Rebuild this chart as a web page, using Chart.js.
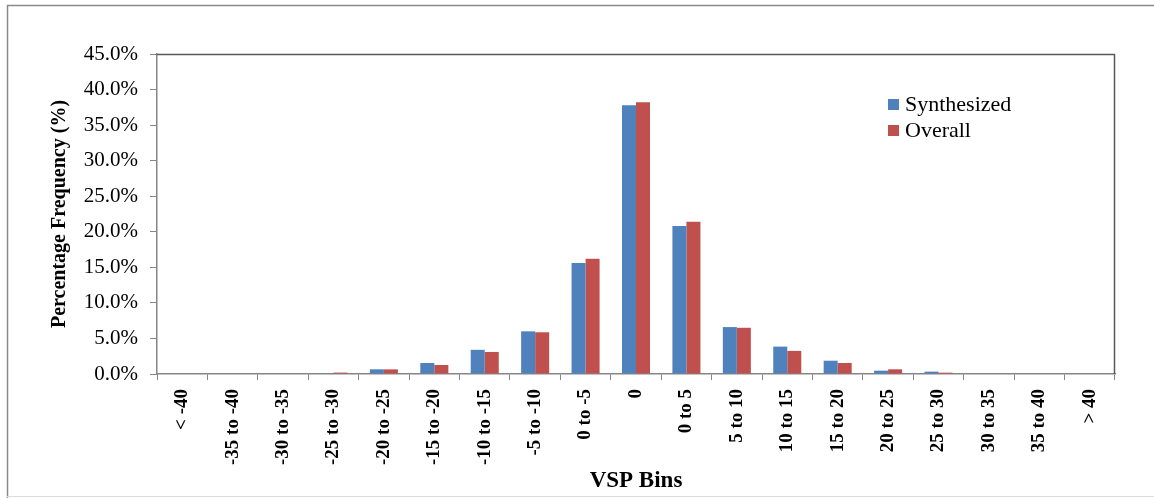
<!DOCTYPE html>
<html>
<head>
<meta charset="utf-8">
<script src="https://cdn.jsdelivr.net/npm/chart.js@4.4.1/dist/chart.umd.min.js"></script>
<style>
  html, body { margin: 0; padding: 0; background: #ffffff; }
  #wrap { width: 1154px; height: 498px; }
</style>
</head>
<body>
<div id="wrap"><canvas id="c" width="1154" height="498"></canvas></div>
<script>
// VSP bin labels along the category axis
const categories = ['< -40', '-35 to -40', '-30 to -35', '-25 to -30', '-20 to -25', '-15 to -20',
  '-10 to -15', '-5 to -10', '0 to -5', '0', '0 to 5', '5 to 10', '10 to 15', '15 to 20',
  '20 to 25', '25 to 30', '30 to 35', '35 to 40', '> 40'];

// Percentage frequency per bin (%)
const synthesized = [0, 0, 0, 0, 0.66, 1.55, 3.4, 6.0, 15.6, 37.8, 20.8, 6.6, 3.85, 1.87, 0.47, 0.33, 0, 0, 0];
const overall = [0, 0, 0, 0.2, 0.65, 1.27, 3.1, 5.87, 16.2, 38.2, 21.4, 6.5, 3.25, 1.55, 0.66, 0.19, 0, 0, 0];

const seriesNames = ['Synthesized', 'Overall'];
const seriesColors = ['#4F81BD', '#C0504D'];

// Y axis: 0% .. 45% in 5% steps
const yMin = 0, yMax = 45, yStep = 5;

Chart.defaults.font.family = "'Liberation Serif', 'Times New Roman', serif";
Chart.defaults.color = '#000000';

// Outer frame and white background
const framePlugin = {
  id: 'frame',
  beforeDraw(chart) {
    const ctx = chart.ctx;
    ctx.save();
    ctx.fillStyle = '#ffffff';
    ctx.fillRect(0, 0, chart.width, chart.height);
    ctx.strokeStyle = '#8a8a8a';
    ctx.lineWidth = 1.5;
    ctx.beginPath();
    ctx.moveTo(7.5, chart.height);
    ctx.lineTo(7.5, 5.5);
    ctx.lineTo(chart.width, 5.5);
    ctx.stroke();
    ctx.strokeStyle = '#dcdcdc';
    ctx.lineWidth = 1;
    ctx.beginPath();
    ctx.moveTo(7, 496.5);
    ctx.lineTo(chart.width, 496.5);
    ctx.stroke();
    ctx.restore();
  }
};

// Top and right edges of the plot area, plus the legend inside it
const plotBoxPlugin = {
  id: 'plotBox',
  afterDraw(chart) {
    const ctx = chart.ctx;
    const a = chart.chartArea;
    ctx.save();
    ctx.strokeStyle = '#595959';
    ctx.lineWidth = 1.5;
    ctx.beginPath();
    ctx.moveTo(a.left, a.top + 0.5);
    ctx.lineTo(a.right - 0.5, a.top + 0.5);
    ctx.lineTo(a.right - 0.5, a.bottom);
    ctx.stroke();

    ctx.font = "22px 'Liberation Serif', 'Times New Roman', serif";
    ctx.textBaseline = 'middle';
    ctx.textAlign = 'left';
    chart.data.datasets.forEach((ds, i) => {
      const y = 105 + i * 26;
      ctx.fillStyle = ds.backgroundColor;
      ctx.fillRect(888, y - 6, 11, 11);
      ctx.fillStyle = '#000000';
      ctx.fillText(ds.label, 905, y);
    });
    ctx.restore();
  }
};

new Chart(document.getElementById('c'), {
  type: 'bar',
  data: {
    labels: categories,
    datasets: [
      { label: seriesNames[0], data: synthesized, backgroundColor: seriesColors[0] },
      { label: seriesNames[1], data: overall, backgroundColor: seriesColors[1] }
    ]
  },
  options: {
    responsive: false,
    animation: false,
    devicePixelRatio: 1,
    layout: { padding: { left: 30, top: 54, right: 39, bottom: 3 } },
    datasets: { bar: { categoryPercentage: 0.556, barPercentage: 1.0, borderWidth: 0 } },
    plugins: {
      legend: { display: false },
      tooltip: { enabled: false },
      title: { display: false }
    },
    scales: {
      x: {
        grid: { drawOnChartArea: false, drawTicks: true, tickLength: 6, color: '#868686', offset: true },
        border: { color: '#868686', width: 1.5 },
        ticks: {
          autoSkip: false, minRotation: 90, maxRotation: 90, padding: 9,
          color: '#000000',
          font: { size: 19, weight: 'bold' }
        },
        title: {
          display: true, text: 'VSP Bins', color: '#000000',
          font: { size: 23, weight: 'bold' }, padding: { top: 0, bottom: 0 }
        },
        afterFit(scale) { scale.height = 121; }
      },
      y: {
        min: yMin, max: yMax,
        grid: { drawOnChartArea: false, drawTicks: true, tickLength: 7, color: '#868686' },
        border: { color: '#868686', width: 1.5 },
        ticks: {
          stepSize: yStep, padding: 12, color: '#000000',
          font: { size: 21 },
          callback: v => v.toFixed(1) + '%'
        },
        title: {
          display: true, text: 'Percentage Frequency (%)', color: '#000000',
          font: { size: 20, weight: 'bold' }, padding: { top: 18, bottom: 0 }
        },
        afterFit(scale) { scale.width = 127; }
      }
    }
  },
  plugins: [framePlugin, plotBoxPlugin]
});
</script>
</body>
</html>
